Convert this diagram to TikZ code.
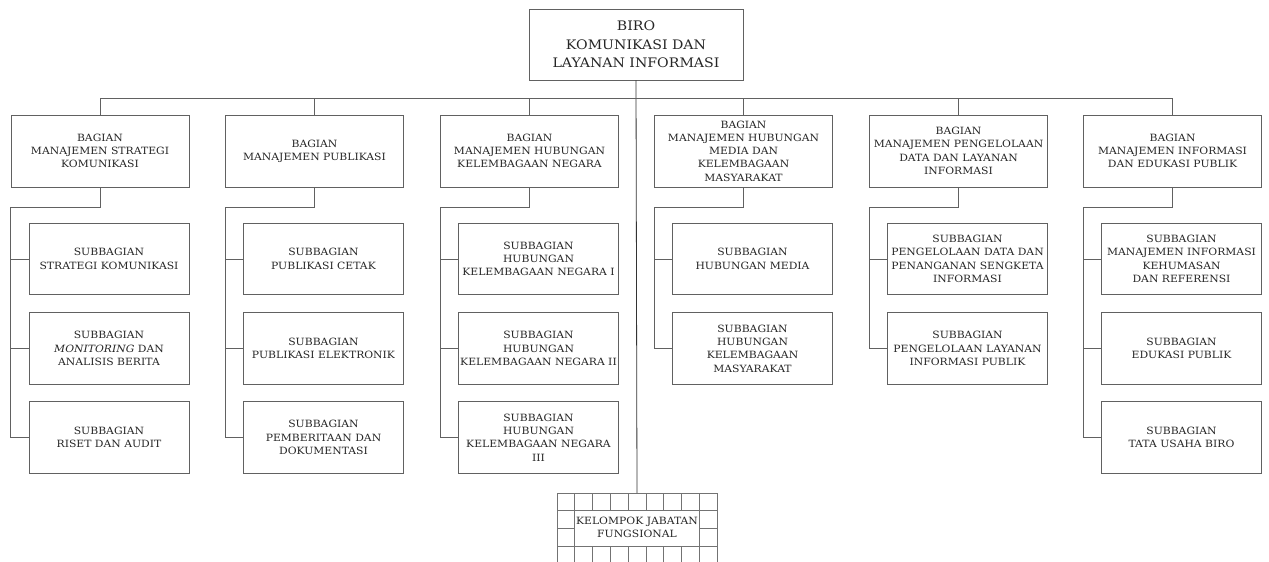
\documentclass[tikz,border=0pt]{standalone}
\usepackage{fontspec}
\setmainfont[FakeStretch=1.08]{DejaVu Serif}
\usetikzlibrary{calc}

\tikzset{
  unit/.style={draw=black!62, line width=0.8pt, rectangle, inner sep=0pt,
    align=center, text=black!85,
    font=\fontsize{10}{13.3}\selectfont},
  headbox/.style={unit, minimum width=214pt, minimum height=71pt,
    font=\fontsize{13.1}{18.5}\selectfont},
  bagbox/.style={unit, minimum width=178pt, minimum height=72pt},
  subbox/.style={unit, minimum width=160pt, minimum height=71.5pt},
  link/.style={draw=black!62, line width=0.8pt},
  spine/.style={draw=black!80, line width=0.8pt},
  grid line/.style={draw=black!55, line width=0.7pt},
}

\begin{document}
\begin{tikzpicture}[x=1pt, y=-1pt]
\useasboundingbox (0,0) rectangle (1269,562);

% head of the bureau
\node[headbox] (top) at (636,44.5) {BIRO\\KOMUNIKASI DAN\\LAYANAN INFORMASI};

% divisions
\node[bagbox] (b1) at (100,151)    {BAGIAN\\MANAJEMEN STRATEGI\\KOMUNIKASI};
\node[bagbox] (b2) at (314.5,151)  {BAGIAN\\MANAJEMEN PUBLIKASI};
\node[bagbox] (b3) at (529.5,151)  {BAGIAN\\MANAJEMEN HUBUNGAN\\KELEMBAGAAN NEGARA};
\node[bagbox] (b4) at (743.5,151)  {BAGIAN\\MANAJEMEN HUBUNGAN\\MEDIA DAN\\KELEMBAGAAN\\MASYARAKAT};
\node[bagbox] (b5) at (958.5,151)  {BAGIAN\\MANAJEMEN PENGELOLAAN\\DATA DAN LAYANAN\\INFORMASI};
\node[bagbox] (b6) at (1172.5,151) {BAGIAN\\MANAJEMEN INFORMASI\\DAN EDUKASI PUBLIK};

% sub-divisions
\node[subbox] (s11) at (109,259)   {SUBBAGIAN\\STRATEGI KOMUNIKASI};
\node[subbox] (s12) at (109,348.5) {SUBBAGIAN\\\textit{MONITORING} DAN\\ANALISIS BERITA};
\node[subbox] (s13) at (109,437.5) {SUBBAGIAN\\RISET DAN AUDIT};

\node[subbox] (s21) at (323.5,259)   {SUBBAGIAN\\PUBLIKASI CETAK};
\node[subbox] (s22) at (323.5,348.5) {SUBBAGIAN\\PUBLIKASI ELEKTRONIK};
\node[subbox] (s23) at (323.5,437.5) {SUBBAGIAN\\PEMBERITAAN DAN\\DOKUMENTASI};

\node[subbox] (s31) at (538.5,259)   {SUBBAGIAN\\HUBUNGAN\\KELEMBAGAAN NEGARA I};
\node[subbox] (s32) at (538.5,348.5) {SUBBAGIAN\\HUBUNGAN\\KELEMBAGAAN NEGARA II};
\node[subbox] (s33) at (538.5,437.5) {SUBBAGIAN\\HUBUNGAN\\KELEMBAGAAN NEGARA\\III};

\node[subbox] (s41) at (752.5,259)   {SUBBAGIAN\\HUBUNGAN MEDIA};
\node[subbox] (s42) at (752.5,348.5) {SUBBAGIAN\\HUBUNGAN\\KELEMBAGAAN\\MASYARAKAT};

\node[subbox] (s51) at (967.5,259)   {SUBBAGIAN\\PENGELOLAAN DATA DAN\\PENANGANAN SENGKETA\\INFORMASI};
\node[subbox] (s52) at (967.5,348.5) {SUBBAGIAN\\PENGELOLAAN LAYANAN\\INFORMASI PUBLIK};

\node[subbox] (s61) at (1181.5,259)   {SUBBAGIAN\\MANAJEMEN INFORMASI\\KEHUMASAN\\DAN REFERENSI};
\node[subbox] (s62) at (1181.5,348.5) {SUBBAGIAN\\EDUKASI PUBLIK};
\node[subbox] (s63) at (1181.5,437.5) {SUBBAGIAN\\TATA USAHA BIRO};

% functional group (grid box)
\coordinate (kjf) at (637,493);
\node[inner sep=0pt, align=center, text=black!85,
      font=\fontsize{10}{13.3}\selectfont] (kjftext) at (637,527.5)
      {KELOMPOK JABATAN\\FUNGSIONAL};
\begin{scope}[grid line]
  \def\gx{557}\def\gc{17.78}
  \foreach \r in {493,510.8,546.3}
    \draw (\gx,\r) -- (\gx+9*\gc,\r);
  \draw (\gx,528.5) -- (\gx+\gc,528.5);
  \draw (\gx+8*\gc,528.5) -- (\gx+9*\gc,528.5);
  \foreach \k in {0,1,8,9}
    \draw (\gx+\k*\gc,493) -- (\gx+\k*\gc,562);
  \foreach \k in {2,...,7} {
    \draw (\gx+\k*\gc,493) -- (\gx+\k*\gc,510.8);
    \draw (\gx+\k*\gc,546.3) -- (\gx+\k*\gc,562);
  }
\end{scope}

% spine from the head down to the functional group
\draw[spine] (top.south) -- (kjf);

% bus to the divisions
\coordinate (bus) at (636,98);
\draw[link] (b1.north) -- (b1.north |- bus) -- (b6.north |- bus) -- (b6.north);
\foreach \b in {b2,b3,b4,b5}
  \draw[link] (\b.north) -- (\b.north |- bus);

% division to sub-division trees
\foreach \b/\last in {b1/s13,b2/s23,b3/s33,b4/s42,b5/s52,b6/s63} {
  \path (\b.south west) ++(0,20) coordinate (\b k);
  \draw[link] (\b.south) |- (\b k) -- (\b k |- \last.west) -- (\last.west);
}
\foreach \b/\s in {b1/s11,b1/s12,b2/s21,b2/s22,b3/s31,b3/s32,b4/s41,b5/s51,b6/s61,b6/s62}
  \draw[link] (\b k |- \s.west) -- (\s.west);

\end{tikzpicture}
\end{document}
